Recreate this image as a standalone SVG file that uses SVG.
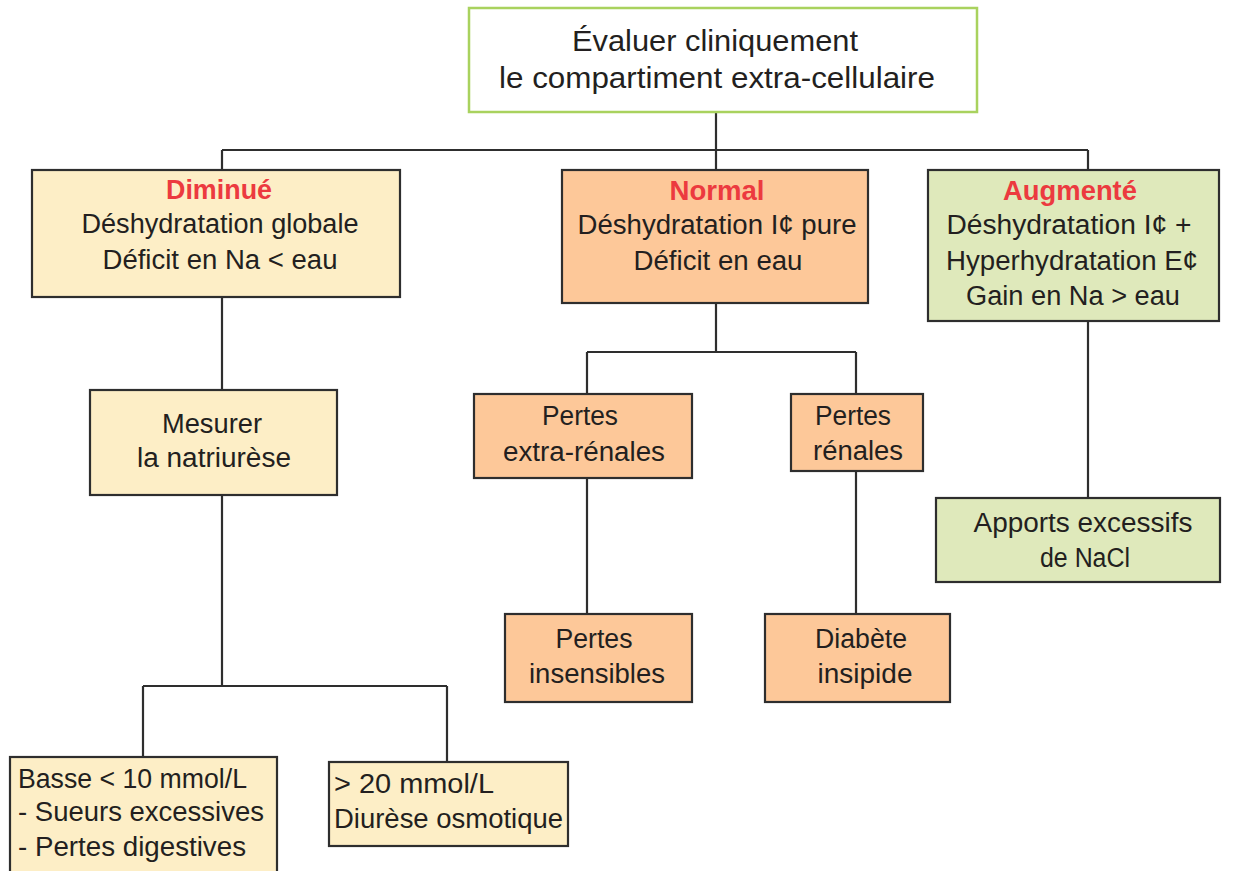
<svg xmlns="http://www.w3.org/2000/svg" width="1237" height="871" viewBox="0 0 1237 871">
<style>
.box{stroke:#2e2e2e;stroke-width:2.2}
.y{fill:#fdeec6}
.o{fill:#fdc899}
.g{fill:#dfe9bb}
text{font-family:"Liberation Sans",Arial,sans-serif;font-size:27px;fill:#231f20;text-anchor:middle}
.t{font-size:29px}
.r{fill:#ec3a3f;font-weight:bold}
.l{text-anchor:start}
.c{fill:none;stroke:#2e2e2e;stroke-width:2.2}
</style>
<rect width="1237" height="871" fill="#ffffff"/>
<g id="connectors" class="c">
<path d="M716 112V150M222 150H1088M222 150V170M716 150V170M1088 150V170"/>
<path d="M222 297V390M222 495V686M143 686H447M143 686V757M447 686V762"/>
<path d="M716 303V352M587 352H856M587 352V394M856 352V394"/>
<path d="M587 478V614M856 471V614"/>
<path d="M1088 321V498"/>
</g>
<g id="n-top">
<rect x="469" y="8" width="508" height="104" fill="#ffffff" stroke="#a9d25e" stroke-width="2.5"/>
<text class="t" x="715" y="51" textLength="286" lengthAdjust="spacingAndGlyphs">Évaluer cliniquement</text>
<text class="t" x="717" y="88" textLength="436" lengthAdjust="spacingAndGlyphs">le compartiment extra-cellulaire</text>
</g>
<g id="n-diminue">
<rect class="box y" x="32" y="170" width="368" height="127"/>
<text class="r" x="219" y="199" textLength="106" lengthAdjust="spacingAndGlyphs">Diminué</text>
<text x="220" y="233" textLength="277" lengthAdjust="spacingAndGlyphs">Déshydratation globale</text>
<text x="220" y="269" textLength="235" lengthAdjust="spacingAndGlyphs">Déficit en Na &lt; eau</text>
</g>
<g id="n-normal">
<rect class="box o" x="562" y="170" width="306" height="133"/>
<text class="r" x="717" y="200" textLength="95" lengthAdjust="spacingAndGlyphs">Normal</text>
<text x="717" y="234" textLength="279" lengthAdjust="spacingAndGlyphs">Déshydratation I¢ pure</text>
<text x="718" y="270" textLength="169" lengthAdjust="spacingAndGlyphs">Déficit en eau</text>
</g>
<g id="n-augmente">
<rect class="box g" x="928" y="170" width="291" height="151"/>
<text class="r" x="1070" y="200" textLength="134" lengthAdjust="spacingAndGlyphs">Augmenté</text>
<text x="1069" y="234" textLength="245" lengthAdjust="spacingAndGlyphs">Déshydratation I¢ +</text>
<text x="1072" y="270" textLength="252" lengthAdjust="spacingAndGlyphs">Hyperhydratation E¢</text>
<text x="1073" y="305" textLength="214" lengthAdjust="spacingAndGlyphs">Gain en Na &gt; eau</text>
</g>
<g id="n-mesurer">
<rect class="box y" x="90" y="390" width="247" height="105"/>
<text x="212" y="433" textLength="100" lengthAdjust="spacingAndGlyphs">Mesurer</text>
<text x="214" y="467" textLength="154" lengthAdjust="spacingAndGlyphs">la natriurèse</text>
</g>
<g id="n-extra">
<rect class="box o" x="474" y="394" width="218" height="84"/>
<text x="580" y="425" textLength="76" lengthAdjust="spacingAndGlyphs">Pertes</text>
<text x="584" y="461" textLength="162" lengthAdjust="spacingAndGlyphs">extra-rénales</text>
</g>
<g id="n-renales">
<rect class="box o" x="791" y="394" width="132" height="77"/>
<text x="853" y="425" textLength="76" lengthAdjust="spacingAndGlyphs">Pertes</text>
<text x="858" y="460" textLength="90" lengthAdjust="spacingAndGlyphs">rénales</text>
</g>
<g id="n-insensibles">
<rect class="box o" x="505" y="614" width="187" height="88"/>
<text x="594" y="648" textLength="77" lengthAdjust="spacingAndGlyphs">Pertes</text>
<text x="597" y="683" textLength="136" lengthAdjust="spacingAndGlyphs">insensibles</text>
</g>
<g id="n-diabete">
<rect class="box o" x="765" y="614" width="185" height="88"/>
<text x="861" y="648" textLength="92" lengthAdjust="spacingAndGlyphs">Diabète</text>
<text x="865" y="683" textLength="95" lengthAdjust="spacingAndGlyphs">insipide</text>
</g>
<g id="n-apports">
<rect class="box g" x="936" y="498" width="284" height="84"/>
<text x="1083" y="532" textLength="219" lengthAdjust="spacingAndGlyphs">Apports excessifs</text>
<text x="1085" y="567" textLength="90" lengthAdjust="spacingAndGlyphs">de NaCl</text>
</g>
<g id="n-basse">
<rect class="box y" x="10" y="757" width="267" height="120"/>
<text class="l" x="18" y="788" textLength="229" lengthAdjust="spacingAndGlyphs">Basse &lt; 10 mmol/L</text>
<text class="l" x="18" y="821" textLength="246" lengthAdjust="spacingAndGlyphs">- Sueurs excessives</text>
<text class="l" x="18" y="856" textLength="228" lengthAdjust="spacingAndGlyphs">- Pertes digestives</text>
</g>
<g id="n-haute">
<rect class="box y" x="329" y="762" width="239" height="84"/>
<text class="l" x="334" y="793" textLength="160" lengthAdjust="spacingAndGlyphs">&gt; 20 mmol/L</text>
<text class="l" x="334" y="828" textLength="229" lengthAdjust="spacingAndGlyphs">Diurèse osmotique</text>
</g>
</svg>
